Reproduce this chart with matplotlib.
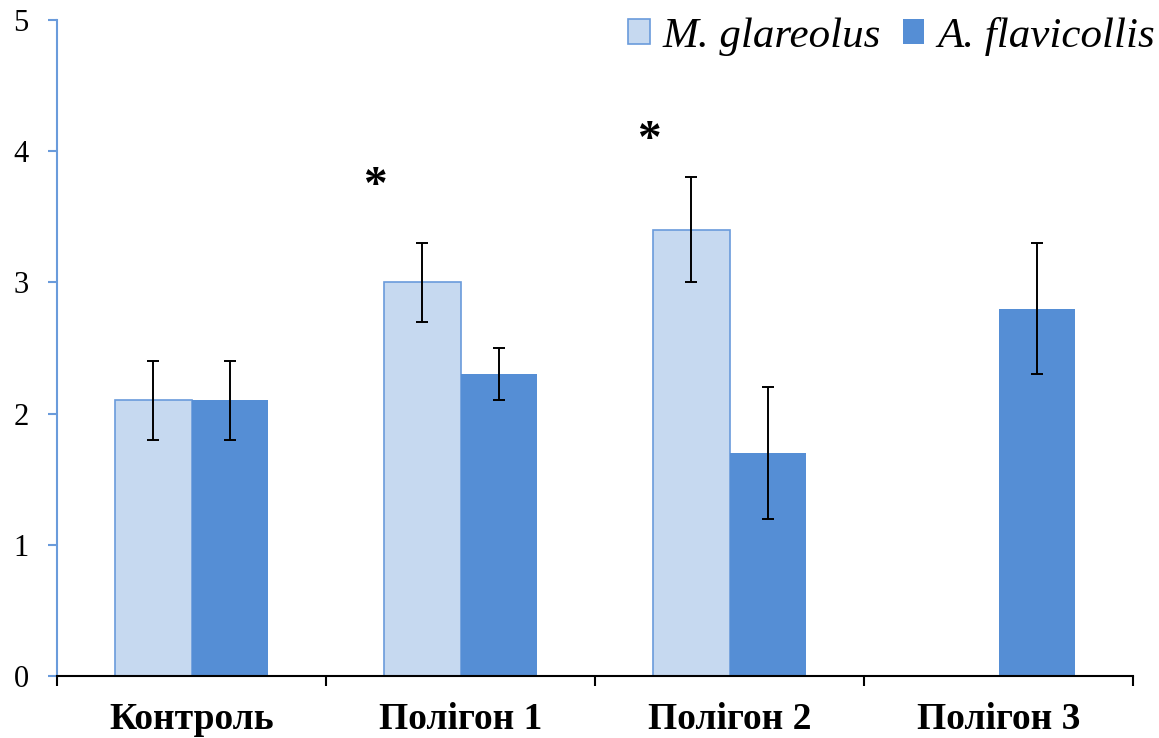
import matplotlib.pyplot as plt
import numpy as np

sites = ["Контроль", "Полігон 1", "Полігон 2", "Полігон 3"]
glareolus = [2.1, 3.0, 3.4, 0.0]
glareolus_err = [0.3, 0.3, 0.4, 0.0]
flavicollis = [2.1, 2.3, 1.7, 2.8]
flavicollis_err = [0.3, 0.2, 0.5, 0.5]

# significance marks (x in category units, y in data units)
star_x = [0.68, 1.70]
star_y = [3.73, 4.08]

LIGHT = "#C6D9F0"
DARK = "#558ED5"
EDGE = "#6A9BDB"

plt.rcParams["font.family"] = ["Liberation Serif", "DejaVu Serif"]

fig = plt.figure(figsize=(11.59, 7.38), dpi=100)
ax = fig.add_axes([0.0492, 0.0840, 0.9284, 0.8889])

x = np.arange(len(sites))
w = 0.286

err_kw = dict(ecolor="black", elinewidth=1.4, capsize=4.5, capthick=1.4)

# no glareolus data at site 3
mask = np.array(glareolus) > 0
ax.bar(x[mask] - w / 2, np.array(glareolus)[mask], w, color=LIGHT, edgecolor=EDGE,
       linewidth=1.2, label="M. glareolus")
ax.errorbar(x[mask] - w / 2, np.array(glareolus)[mask], yerr=np.array(glareolus_err)[mask],
            fmt="none", **err_kw)
ax.bar(x + w / 2, flavicollis, w, color=DARK, edgecolor=DARK, linewidth=0,
       label="A. flavicollis")
ax.errorbar(x + w / 2, flavicollis, yerr=flavicollis_err, fmt="none", **err_kw)

for sx, sy in zip(star_x, star_y):
    ax.text(sx, sy, "*", fontsize=34, fontweight="bold", ha="center", va="center")

ax.set_xlim(-0.5, 3.5)
ax.set_ylim(0, 5)

ax.spines["top"].set_visible(False)
ax.spines["right"].set_visible(False)
ax.spines["left"].set_color(EDGE)
ax.spines["left"].set_linewidth(1.5)
ax.spines["bottom"].set_color("black")
ax.spines["bottom"].set_linewidth(1.5)

ax.set_yticks(range(6))
ax.tick_params(axis="y", colors=EDGE, length=6.5, width=1.5, pad=14, labelsize=22,
               labelcolor="black")

ax.set_xticks(x)
ax.set_xticklabels(sites, fontsize=27, fontweight="bold")
ax.set_xticks(np.arange(-0.5, 4.0, 1.0), minor=True)
ax.tick_params(axis="x", which="major", length=0, pad=19)
ax.tick_params(axis="x", which="minor", length=7.5, width=1.5, color="black")

leg = fig.legend(loc="upper right", bbox_to_anchor=(1.0, 0.983), ncol=2, frameon=False,
                 prop={"style": "italic", "size": 31}, handlelength=0.5, handleheight=0.5,
                 handletextpad=0.3, columnspacing=0.5, borderaxespad=0, borderpad=0.1)

fig.savefig("out.png", dpi=100)
